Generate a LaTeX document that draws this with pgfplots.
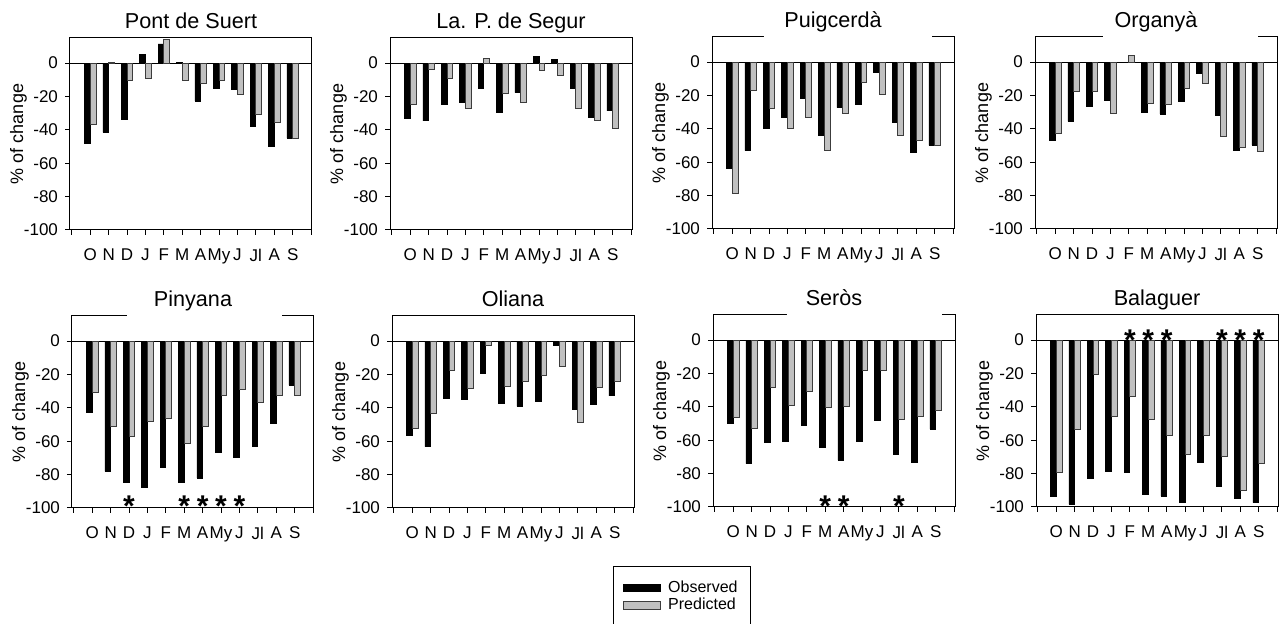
\documentclass[border=0pt]{standalone}
\usepackage{fontspec}
\setmainfont{Liberation Sans}
\usepackage{pgfplots}
\pgfplotsset{compat=1.18}

\definecolor{predgray}{RGB}{192,192,192}
\definecolor{prededge}{RGB}{60,60,60}

\pgfplotsset{
  panel/.style={
    width=121pt, height=96pt, scale only axis,
    anchor=south west,
    xmin=-0.1, xmax=13.05, ymin=-100, ymax=15,
    xtick={0,...,13},
    xticklabels={,O,N,D,J,F,M,A,My,J,Jl,A,S,},
    ytick={-100,-80,...,0},
    tick pos=left, tick align=outside,
    major tick length=2.5pt,
    axis line style={line width=0.5pt},
    every tick/.style={black, line width=0.5pt},
    ticklabel style={font=\fontsize{8.5}{10}\selectfont},
    xticklabel style={yshift=-3.5pt},
    /pgf/number format/assume math mode=true,
    every axis y label/.style={at={(axis description cs:-0.213,0.5)}, rotate=90,
      anchor=center, font=\fontsize{9}{11}\selectfont},
    ylabel={\% of change},
    every axis title/.style={at={(axis description cs:0.5,1)}, anchor=base,
      yshift=4.5pt, font=\fontsize{10.8}{12}\selectfont},
    extra y ticks={0}, extra y tick labels={},
    extra y tick style={grid=major, major grid style={black, line width=0.5pt}},
    clip=false,
    legend image code/.code={\draw[#1] (0pt,-1.8pt) rectangle (18.5pt,1.8pt);},
  },
  obs/.style={ybar, bar width=0.31, bar shift=-0.155, fill=black, draw=black, line width=0.4pt},
  pred/.style={ybar, bar width=0.31, bar shift=0.155, fill=predgray, draw=prededge, line width=0.4pt},
  stars/.style={draw=none, nodes near coords={*},
    every node near coord/.style={anchor=center, inner sep=0pt,
      font=\fontsize{15}{15}\selectfont\bfseries}},
}

\begin{document}
\begin{tikzpicture}
\useasboundingbox (0,0) rectangle (641.5pt,312pt);

% ---------- top row ----------
\begin{axis}[panel, at={(35pt,197pt)}, title={Pont de Suert}]
\addplot[obs] coordinates {(1,-48.2) (2,-41.6) (3,-33.9) (4,5.4) (5,11.4) (6,0.3)
  (7,-22.7) (8,-15.3) (9,-15.7) (10,-38.2) (11,-50.2) (12,-45)};
\addplot[pred] coordinates {(1,-36.7) (2,0.3) (3,-10.4) (4,-9.4) (5,14.1) (6,-10.4)
  (7,-12.4) (8,-10.4) (9,-18.9) (10,-30.9) (11,-35.7) (12,-45.4)};
\end{axis}

\begin{axis}[panel, at={(195pt,197pt)}, title={La. P. de Segur}]
\addplot[obs] coordinates {(1,-33) (2,-34.6) (3,-25) (4,-23.6) (5,-15.2) (6,-29.6)
  (7,-17.8) (8,3.8) (9,2.2) (10,-15.2) (11,-32.8) (12,-28.6)};
\addplot[pred] coordinates {(1,-24.6) (2,-3.6) (3,-9.4) (4,-27.4) (5,2.6) (6,-18)
  (7,-23.6) (8,-4.4) (9,-7.2) (10,-27.4) (11,-34.2) (12,-39)};
\end{axis}

\begin{axis}[panel, name=p3, at={(356pt,197.5pt)}, title={Puigcerdà}]
\addplot[obs] coordinates {(1,-63.5) (2,-53.1) (3,-39.9) (4,-32.9) (5,-22) (6,-43.9)
  (7,-27.3) (8,-25.5) (9,-6.2) (10,-36.1) (11,-53.9) (12,-49.9)};
\addplot[pred] coordinates {(1,-78.8) (2,-17.2) (3,-27.9) (4,-39.9) (5,-32.9) (6,-52.7)
  (7,-30.5) (8,-12.2) (9,-19.2) (10,-44.1) (11,-47.1) (12,-50.1)};
\end{axis}
\draw[white, line width=1pt] ([xshift=25.8pt]p3.north west) -- ([xshift=110pt]p3.north west);

\begin{axis}[panel, name=p4, at={(517.5pt,197.5pt)}, title={Organyà}]
\addplot[obs] coordinates {(1,-47.1) (2,-35.5) (3,-26.5) (4,-23) (5,-0.5) (6,-29.9)
  (7,-31.1) (8,-23.4) (9,-6.8) (10,-31.7) (11,-52.9) (12,-49.7)};
\addplot[pred] coordinates {(1,-42.9) (2,-17.4) (3,-17.4) (4,-30.9) (5,4) (6,-25)
  (7,-25.5) (8,-16) (9,-13) (10,-44.5) (11,-51.1) (12,-53.7)};
\end{axis}
\draw[white, line width=1pt] ([xshift=34.2pt]p4.north west) -- ([xshift=111.7pt]p4.north west);

% ---------- bottom row ----------
\begin{axis}[panel, name=p5, at={(36pt,58pt)}, title={Pinyana}]
\addplot[obs] coordinates {(1,-42.8) (2,-78) (3,-84.8) (4,-87.4) (5,-75.6) (6,-84.4)
  (7,-82) (8,-66.8) (9,-69.4) (10,-63.4) (11,-49.2) (12,-26.4)};
\addplot[pred] coordinates {(1,-30.6) (2,-51.4) (3,-57.4) (4,-48.4) (5,-46.4) (6,-61.4)
  (7,-51.4) (8,-32.4) (9,-29) (10,-36.6) (11,-32.4) (12,-32.4)};
\addplot[stars] coordinates {(3,-99) (6,-99) (7,-99) (8,-99) (9,-99)};
\end{axis}
\draw[white, line width=1pt] ([xshift=27.5pt]p5.north west) -- ([xshift=105pt]p5.north west);

\begin{axis}[panel, at={(196pt,58pt)}, title={Oliana},
  legend style={at={(axis description cs:0.913,-0.302)}, anchor=north west,
    draw=black, line width=0.5pt, font=\fontsize{8}{9}\selectfont,
    inner xsep=5pt, inner ysep=5.5pt, row sep=-1.5pt, column sep=2pt,
    nodes={inner sep=1.5pt}},
  legend cell align=left]
\addplot[obs] coordinates {(1,-56.6) (2,-63.2) (3,-34.4) (4,-35) (5,-19.6) (6,-37.6)
  (7,-39.2) (8,-36) (9,-2.6) (10,-41) (11,-38.2) (12,-32.8)};
\addlegendentry{Observed}
\addplot[pred] coordinates {(1,-52.6) (2,-43.4) (3,-17.8) (4,-28.4) (5,-2.6) (6,-27.2)
  (7,-24.2) (8,-20.4) (9,-15) (10,-49) (11,-28) (12,-24)};
\addlegendentry{Predicted}
\end{axis}

\begin{axis}[panel, name=p7, at={(356.5pt,58.5pt)}, title={Seròs}]
\addplot[obs] coordinates {(1,-50) (2,-74) (3,-61.4) (4,-61) (5,-51) (6,-64.4)
  (7,-72) (8,-61) (9,-48.4) (10,-68.6) (11,-73.4) (12,-53.4)};
\addplot[pred] coordinates {(1,-46.6) (2,-53) (3,-28.6) (4,-39) (5,-30.6) (6,-40.6)
  (7,-39.6) (8,-18) (9,-18) (10,-47.4) (11,-45.6) (12,-42.2)};
\addplot[stars] coordinates {(6,-99.5) (7,-99.5) (10,-99.5)};
\end{axis}
\draw[white, line width=1pt] ([xshift=36.8pt]p7.north west) -- ([xshift=114.3pt]p7.north west);

\begin{axis}[panel, at={(518pt,58.5pt)}, title={Balaguer}]
\addplot[obs] coordinates {(1,-93.4) (2,-98.4) (3,-82.6) (4,-78.6) (5,-79.4) (6,-92.4)
  (7,-93.4) (8,-97.4) (9,-73) (10,-87.4) (11,-95) (12,-97.4)};
\addplot[pred] coordinates {(1,-79) (2,-53.4) (3,-20.4) (4,-46) (5,-33.8) (6,-47.6)
  (7,-57.4) (8,-68.6) (9,-57) (10,-69.4) (11,-90) (12,-74)};
\addplot[stars] coordinates {(5,-0.1) (6,-0.1) (7,-0.1) (10,-0.1) (11,-0.1) (12,-0.1)};
\end{axis}

\end{tikzpicture}
\end{document}
